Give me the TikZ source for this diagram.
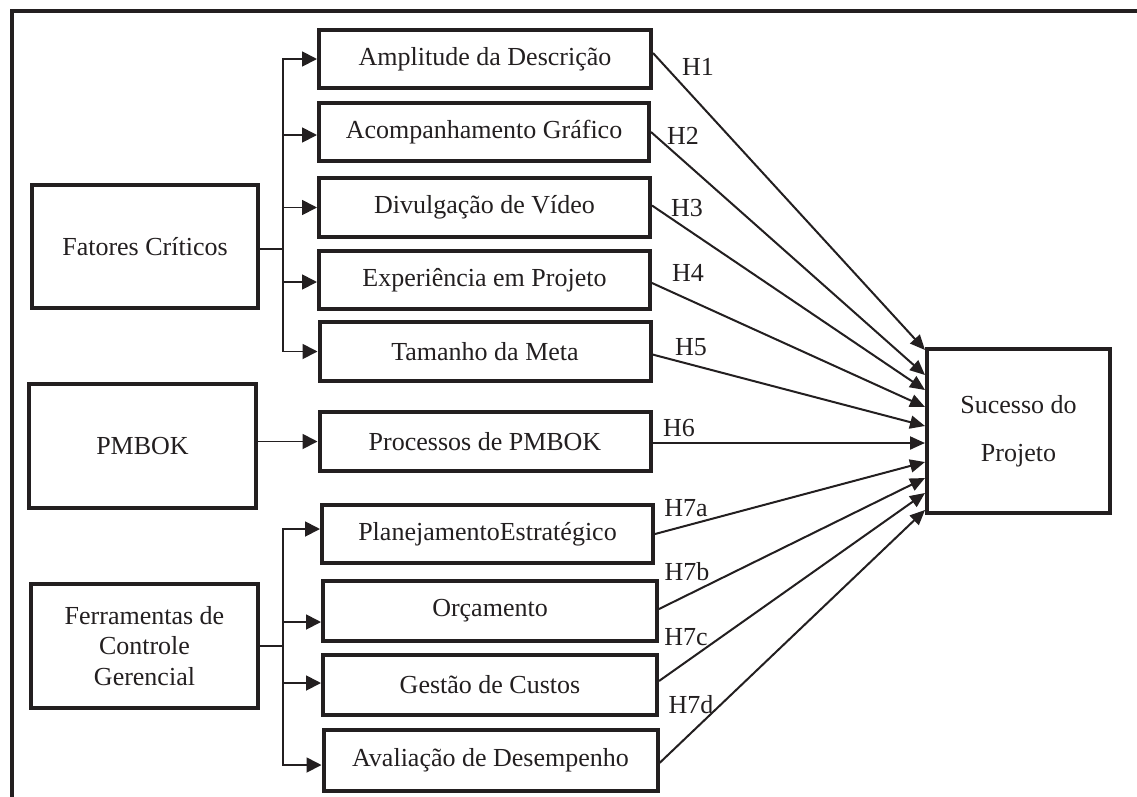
\documentclass[tikz,border=0pt]{standalone}
\usepackage{fontspec}
\setmainfont{Liberation Serif}
\usetikzlibrary{arrows.meta}
\definecolor{ink}{RGB}{35,31,32}
\begin{document}
\begin{tikzpicture}[x=1pt,y=-1pt,
  box/.style={draw=ink, line width=4pt, text=ink, font=\fontsize{26}{30.5}\selectfont, inner sep=0pt, align=center},
  arr/.style={draw=ink, line width=1.8pt, -{Triangle[length=15pt,width=15pt]}},
  hyp/.style={draw=ink, line width=2pt, -{Triangle[length=15pt,width=13pt]}},
  hlab/.style={text=ink, font=\fontsize{26}{30}\selectfont, inner sep=0pt}]
\useasboundingbox (0,0) rectangle (1137,796);
\clip (0,0) rectangle (1137,796);
\fill[white] (0,0) rectangle (1137,796);
% frame
\draw[ink, line width=4pt] (12,830) -- (12,11) -- (1160,11);
% left boxes
\node[box, minimum width=226pt, minimum height=123pt] (fat) at (145,246.5) {Fatores Críticos};
\node[box, minimum width=227pt, minimum height=124pt] (pmb) at (142.5,446) {PMBOK};
\node[box, minimum width=227pt, minimum height=124pt] (fer) at (144.5,646) {Ferramentas de\\Controle\\Gerencial};
% middle boxes
\node[box, minimum width=332pt, minimum height=58pt] (amp) at (485,59) {Amplitude da Descrição};
\node[box, minimum width=330pt, minimum height=58pt] (aco) at (484,132) {Acompanhamento Gráfico};
\node[box, minimum width=331pt, minimum height=59pt] (div) at (484.5,207.5) {Divulgação de Vídeo};
\node[box, minimum width=331pt, minimum height=58pt] (exp) at (484.5,280) {Experiência em Projeto};
\node[box, minimum width=331pt, minimum height=59pt] (tam) at (485,351.5) {Tamanho da Meta};
\node[box, minimum width=331pt, minimum height=59pt] (pro) at (485,441.5) {Processos de PMBOK};
\node[box, minimum width=331pt, minimum height=58pt] (pla) at (487.5,534) {PlanejamentoEstratégico};
\node[box, minimum width=334pt, minimum height=60pt] (orc) at (490,611) {Orçamento};
\node[box, minimum width=334pt, minimum height=60pt] (ges) at (490,685) {Gestão de Custos};
\node[box, minimum width=334pt, minimum height=61pt] (ava) at (490.5,760.5) {Avaliação de Desempenho};
% right box
\node[box, minimum width=183pt, minimum height=164pt, font=\fontsize{26}{48}\selectfont] (suc) at (1018.5,431) {Sucesso do\\Projeto};
% branches
\draw[arr] ([yshift=-2.5pt]fat.east) -- ++(23,0) |- (amp.west);
\draw[arr] ([yshift=-2.5pt]fat.east) -- ++(23,0) |- ([yshift=-3pt]aco.west);
\draw[arr] ([yshift=-2.5pt]fat.east) -- ++(23,0) |- (div.west);
\draw[arr] ([yshift=-2.5pt]fat.east) -- ++(23,0) |- ([yshift=-2pt]exp.west);
\draw[arr] ([yshift=-2.5pt]fat.east) -- ++(23,0) |- (tam.west);
\draw[arr] ([yshift=4.5pt]pmb.east) -- (pro.west);
\draw[arr] (fer.east) -- ++(23,0) |- ([yshift=5pt]pla.west);
\draw[arr] (fer.east) -- ++(23,0) |- ([yshift=-11pt]orc.west);
\draw[arr] (fer.east) -- ++(23,0) |- ([yshift=2pt]ges.west);
\draw[arr] (fer.east) -- ++(23,0) |- ([yshift=-4.5pt]ava.west);
% hypotheses
\draw[hyp] ([yshift=6pt]amp.east) -- ([yshift=81pt]suc.west);
\draw[hyp] (aco.east) -- ([yshift=56pt]suc.west);
\draw[hyp] ([yshift=2pt]div.east) -- ([yshift=41pt]suc.west);
\draw[hyp] ([yshift=-3pt]exp.east) -- ([yshift=24pt]suc.west);
\draw[hyp] ([yshift=-3pt]tam.east) -- ([yshift=5pt]suc.west);
\draw[hyp] ([yshift=-1.5pt]pro.east) -- ([yshift=-12pt]suc.west);
\draw[hyp] (pla.east) -- ([yshift=-31pt]suc.west);
\draw[hyp] ([yshift=2pt]orc.east) -- ([yshift=-47pt]suc.west);
\draw[hyp] ([yshift=4pt]ges.east) -- ([yshift=-62pt]suc.west);
\draw[hyp] ([yshift=-2.5pt]ava.east) -- ([yshift=-79pt]suc.west);
% labels
\node[hlab] (h1) at (698,67) {H1};
\node[hlab] (h2) at (683,136) {H2};
\node[hlab] (h3) at (687,208) {H3};
\node[hlab] (h4) at (688,273) {H4};
\node[hlab] (h5) at (691,347) {H5};
\node[hlab] (h6) at (679,428) {H6};
\node[hlab] (h7a) at (686,508) {H7a};
\node[hlab] (h7b) at (687,572) {H7b};
\node[hlab] (h7c) at (686,637) {H7c};
\node[hlab] (h7d) at (691,705) {H7d};
\end{tikzpicture}
\end{document}
